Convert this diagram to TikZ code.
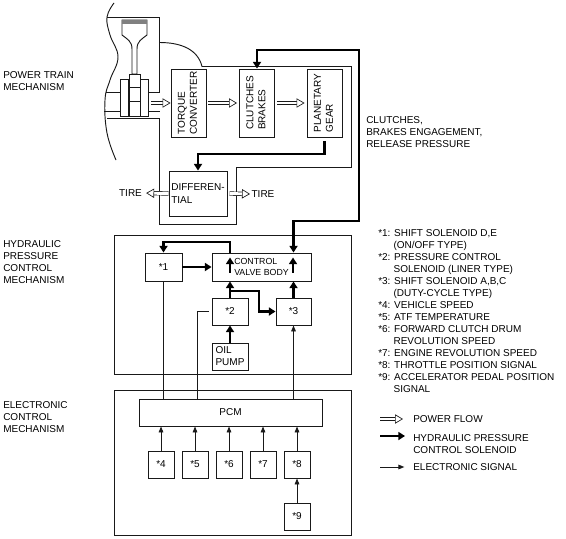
\documentclass[tikz,border=0pt]{standalone}
\usepackage{fontspec}
\setmainfont{Liberation Sans}
\usetikzlibrary{arrows.meta,calc}
\definecolor{linegray}{RGB}{25, 25, 25}
\tikzset{
    sys/.style={draw=linegray, line width=0.7pt, fill=white, inner sep=0pt},
    box/.style={sys, minimum width=36*0.75pt, minimum height=27*0.75pt},
    smallbox/.style={sys, minimum width=26*0.75pt, minimum height=27*0.75pt},
    tallbox/.style={sys, minimum width=35*0.75pt, minimum height=68*0.75pt},
    lab/.style={anchor=north west, align=left, inner sep=0pt},
    thinline/.style={draw=linegray, line width=0.7pt},
    elec/.style={thinline, -{Triangle[length=4.5pt,width=3.5pt]}},
    hyd/.style={draw=black, line width=1.9pt, -{Triangle[length=5pt,width=6pt]}},
    hydboth/.style={hyd, {Triangle[length=5pt,width=6pt]}-{Triangle[length=5pt,width=6pt]}},
    power/.style={draw=linegray, line width=0.5pt, double=white, double distance=2.2pt, -{Triangle[open,length=6pt,width=7pt,fill=white,line width=0.5pt]}}
}
\begin{document}
\begin{tikzpicture}[x=0.75pt, y=-0.75pt, font=\fontsize{7.5pt}{9pt}\selectfont]
    \useasboundingbox (0,0) rectangle (566,538);

    % Engine
    \draw[thinline] plot[smooth, tension=0.7] coordinates {(114,3) (107,17) (110,35) (118,57) (110,80) (105,100) (107,133) (116,160)};
    \draw[thinline] (107,17.5) -- (159.5,17.5) -- (159.5,92.5) -- (148,92.5);
    \draw[thinline] (106,92.5) -- (120,92.5);
    \draw[thinline] (104,111.5) -- (120,111.5);
    \draw[thinline] (107,118.5) -- (159.5,118.5);
    \draw[thinline] (148,111.5) -- (159.5,111.5);
    \draw[thinline, fill=white] (122,20) -- (147,20) -- (147,35) .. controls (142,39) and (137,41) .. (137,49) -- (137,74) -- (132,74) -- (132,49) .. controls (132,41) and (127,39) .. (122,35) -- cycle;
    \fill[gray] (122,20) rectangle (147,24);
    \draw[thinline, fill=white] (120,79) rectangle (128,116);
    \draw[thinline, fill=white] (140,79) rectangle (148,116);
    \draw[thinline, fill=white] (129,74) rectangle (140,116);
    \draw[thinline] (129,87) -- (140,87);
    \draw[thinline] (129,101) -- (140,101);

    % Housing
    \draw[thinline] (159.5,42.5) .. controls (182,42.5) and (198,50) .. (202,66.5) -- (351.5,66.5) -- (351.5,167.5) -- (236.5,167.5) -- (236.5,224.5) -- (159.5,224.5) -- (159.5,118.5);

    % Power train
    \node[tallbox] (torque) at (188.5,103) {\rotatebox{90}{\begin{tabular}{@{}l@{}}TORQUE\\CONVERTER\end{tabular}}};
    \node[tallbox] (clutch) at (257,103) {\rotatebox{90}{\begin{tabular}{@{}l@{}}CLUTCHES\\BRAKES\end{tabular}}};
    \node[tallbox] (gear) at (324.5,103) {\rotatebox{90}{\begin{tabular}{@{}l@{}}PLANETARY\\GEAR\end{tabular}}};
    \node[sys, minimum width=58*0.75pt, minimum height=45*0.75pt, align=left] (diff) at (198,193.5) {\raisebox{-1.2pt}{DIFFEREN-}\\[0.75pt]\raisebox{-1.2pt}{TIAL}};
    \node[inner sep=0pt] (tirel) at (130.5,193) {TIRE};
    \node[inner sep=0pt] (tirer) at (263,194) {TIRE};
    \coordinate (crank) at (151,103);
    \draw[power] (crank) -- (torque.west);
    \draw[power, shorten >=1.5pt, shorten <=1.5pt] (torque.east) -- (clutch.west);
    \draw[power, shorten >=1.5pt, shorten <=1.5pt] (clutch.east) -- (gear.west);
    \draw[power, shorten >=3pt] (diff.west) -- (tirel.east);
    \draw[power, shorten <=1.5pt, shorten >=1pt] (diff.east) -- (tirer.west);
    \coordinate (gearout) at (262,154);
    \draw[hyd, shorten <=3pt] (gear.south) |- (gearout) -| (diff.north);

    % Hydraulic
    \node[sys, minimum width=237*0.75pt, minimum height=139*0.75pt, fill=none] (hydbox) at (232.5,304.5) {};
    \node[box, minimum width=37*0.75pt, minimum height=28*0.75pt] (star1) at (163.5,267) {*1};
    \node[sys, minimum width=99*0.75pt, minimum height=28*0.75pt, align=left, font=\fontsize{6.6pt}{8.2pt}\selectfont] (ctrl) at (261.5,267) {CONTROL\\VALVE BODY};
    \node[box] (star2) at (230,311.5) {*2};
    \node[box, minimum width=35*0.75pt] (star3) at (293.5,311.5) {*3};
    \node[box, align=left] (pump) at (230,356.5) {\raisebox{-1pt}{OIL}\\\raisebox{-1pt}{PUMP}};

    % Electronic
    \node[sys, minimum width=237*0.75pt, minimum height=145*0.75pt, fill=none] (elecbox) at (232.5,462.5) {};
    \node[sys, minimum width=183*0.75pt, minimum height=27*0.75pt] (pcm) at (230.5,412.5) {PCM};
    \foreach \nm/\x in {4/161, 5/195, 6/229, 7/263, 8/297} {
        \node[smallbox] (star\nm) at (\x,464.5) {*\nm};
        \draw[elec] (star\nm.north) -- (pcm.south -| star\nm.north);
    }
    \node[smallbox] (star9) at (297,516.5) {*9};
    \draw[elec] (star9.north) -- (star8.south);

    % Hydraulic lines
    \coordinate (hyda) at (359,50);
    \coordinate (hydb) at (359,221);
    \coordinate (hydc) at (230,242);
    \coordinate (hydd) at (259,291);
    \coordinate (hyde) at (259,311.5);
    \draw[hydboth] (clutch.north) |- (hyda) -- (hydb) -| (ctrl.north -| star3.north);
    \draw[hyd] (ctrl.north -| star2.north) -- (hydc) -| (star1.north);
    \draw[hyd] (star1.east) -- (ctrl.west);
    \draw[hyd] (star2.north) -- (ctrl.south -| star2.north);
    \draw[hyd] (star3.north) -- (ctrl.south -| star3.north);
    \draw[hyd] (pump.north) -- (star2.south);
    \draw[hyd] (star2.north |- hydd) -- (hydd) -- (hyde) -- (star3.west);
    \coordinate (insl) at (230,272.5);
    \coordinate (insr) at (293,272.5);
    \draw[hyd] (insl) -- ++(0,-15);
    \draw[hyd] (insr) -- ++(0,-15);

    % Electronic lines
    \coordinate (sol2) at (197,399);
    \draw[thinline] (star1.south) -- (pcm.north -| star1.south);
    \draw[thinline, shorten <=2pt] (star2.west) -| (sol2);
    \draw[elec] (pcm.north -| star3.south) -- (star3.south);

    % Labels
    \node[lab] (lab1) at (3,71) {POWER TRAIN\\MECHANISM};
    \node[lab] (lab2) at (3,240) {HYDRAULIC\\PRESSURE\\CONTROL\\MECHANISM};
    \node[lab] (lab3) at (3,401) {ELECTRONIC\\CONTROL\\MECHANISM};
    \node[lab] (lab4) at (366,116) {CLUTCHES,\\BRAKES ENGAGEMENT,\\RELEASE PRESSURE};
    \node[lab] (keylist) at (378,229.5) {*1: SHIFT SOLENOID D,E\\
        \hspace*{11.5pt}(ON/OFF TYPE)\\
        *2: PRESSURE CONTROL\\
        \hspace*{11.5pt}SOLENOID (LINER TYPE)\\
        *3: SHIFT SOLENOID A,B,C\\
        \hspace*{11.5pt}(DUTY-CYCLE TYPE)\\
        *4: VEHICLE SPEED\\
        *5: ATF TEMPERATURE\\
        *6: FORWARD CLUTCH DRUM\\
        \hspace*{11.5pt}REVOLUTION SPEED\\
        *7: ENGINE REVOLUTION SPEED\\
        *8: THROTTLE POSITION SIGNAL\\
        *9: ACCELERATOR PEDAL POSITION\\
        \hspace*{11.5pt}SIGNAL};

    % Legend
    \node[lab, anchor=west] (legpower) at (413,419) {POWER FLOW};
    \node[lab] (leghyd) at (413,434) {HYDRAULIC PRESSURE\\CONTROL SOLENOID};
    \node[lab, anchor=west] (legelec) at (413,467) {ELECTRONIC SIGNAL};
    \coordinate (keya) at (380,419);
    \coordinate (keyb) at (380,436);
    \coordinate (keyc) at (380,467);
    \draw[power, shorten >=7.5pt] (keya) -- (legpower.west);
    \draw[hyd, shorten >=6pt] (keyb) -- (keyb -| leghyd.west);
    \draw[elec, shorten >=6.5pt] (keyc) -- (legelec.west);
\end{tikzpicture}
\end{document}
